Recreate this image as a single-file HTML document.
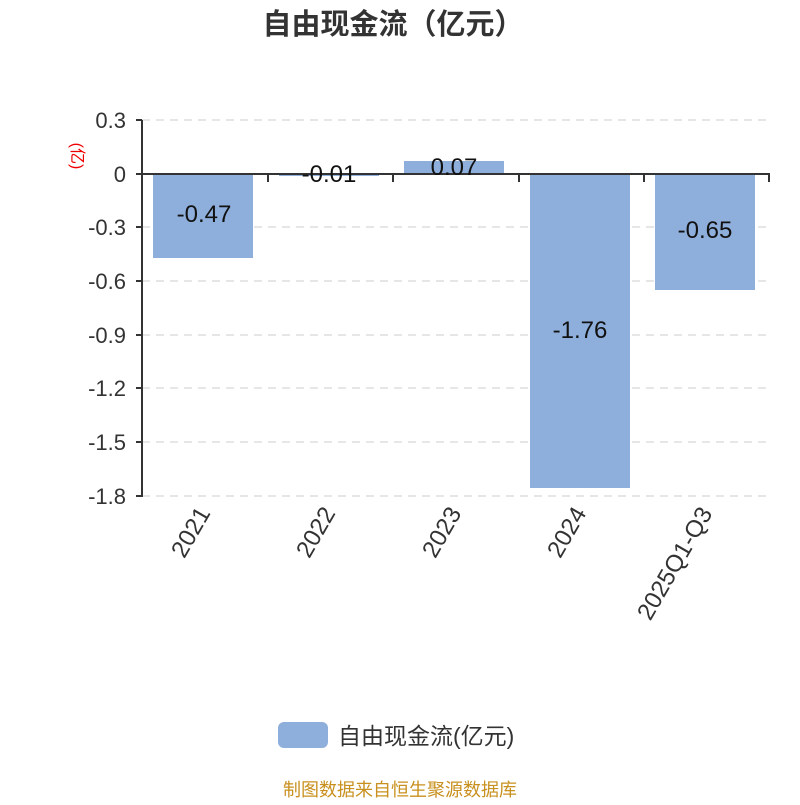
<!DOCTYPE html>
<html><head><meta charset="utf-8"><style>html,body{margin:0;padding:0;background:#fff}</style></head>
<body>
<svg width="800" height="800" xmlns="http://www.w3.org/2000/svg" font-family="Liberation Sans, Noto Sans CJK SC, sans-serif">
<text x="393" y="34" font-size="29" font-weight="bold" fill="#333" text-anchor="middle">自由现金流（亿元）</text>
<g stroke="#ccc" stroke-width="1" stroke-dasharray="8,6">
<line x1="142" y1="120" x2="770" y2="120"/>
<line x1="142" y1="227" x2="770" y2="227"/>
<line x1="142" y1="281" x2="770" y2="281"/>
<line x1="142" y1="335" x2="770" y2="335"/>
<line x1="142" y1="388" x2="770" y2="388"/>
<line x1="142" y1="442" x2="770" y2="442"/>
<line x1="142" y1="496" x2="770" y2="496"/>
</g>
<g fill="#8eaedb">
<rect x="153" y="174" width="100" height="84"/>
<rect x="279" y="174" width="100" height="2"/>
<rect x="404" y="161" width="100" height="13"/>
<rect x="530" y="174" width="100" height="314"/>
<rect x="655" y="174" width="100" height="116"/>
</g>
<g stroke="#333" stroke-width="2">
<line x1="142" y1="120" x2="142" y2="497"/>
<line x1="136" y1="174" x2="770" y2="174"/>
<line x1="136" y1="120" x2="142" y2="120"/>
<line x1="136" y1="227" x2="142" y2="227"/>
<line x1="136" y1="281" x2="142" y2="281"/>
<line x1="136" y1="335" x2="142" y2="335"/>
<line x1="136" y1="388" x2="142" y2="388"/>
<line x1="136" y1="442" x2="142" y2="442"/>
<line x1="136" y1="496" x2="142" y2="496"/>
<line x1="268" y1="174" x2="268" y2="182"/>
<line x1="393" y1="174" x2="393" y2="182"/>
<line x1="519" y1="174" x2="519" y2="182"/>
<line x1="644" y1="174" x2="644" y2="182"/>
<line x1="769" y1="174" x2="769" y2="182"/>
</g>
<g font-size="22" fill="#333" text-anchor="end">
<text x="126" y="128">0.3</text>
<text x="126" y="182">0</text>
<text x="126" y="235">-0.3</text>
<text x="126" y="289">-0.6</text>
<text x="126" y="343">-0.9</text>
<text x="126" y="396">-1.2</text>
<text x="126" y="450">-1.5</text>
<text x="126" y="504">-1.8</text>
</g>
<text transform="translate(72,156) rotate(90)" font-size="16" fill="#e00" text-anchor="middle">(亿)</text>
<g font-size="24" fill="#111" text-anchor="middle">
<text x="204" y="222">-0.47</text>
<text x="329" y="182">-0.01</text>
<text x="454" y="175">0.07</text>
<text x="580" y="338">-1.76</text>
<text x="705" y="238">-0.65</text>
</g>
<g font-size="24" fill="#333" text-anchor="end">
<text transform="translate(211,513) rotate(-60)">2021</text>
<text transform="translate(336,513) rotate(-60)">2022</text>
<text transform="translate(462,513) rotate(-60)">2023</text>
<text transform="translate(587,513) rotate(-60)">2024</text>
<text transform="translate(713,513) rotate(-60)">2025Q1-Q3</text>
</g>
<rect x="278" y="722" width="50" height="26" rx="6" fill="#8eaedb"/>
<text x="338" y="744" font-size="23" fill="#333">自由现金流(亿元)</text>
<text x="400" y="796" font-size="18" fill="#c8901e" text-anchor="middle">制图数据来自恒生聚源数据库</text>
</svg>
</body></html>
